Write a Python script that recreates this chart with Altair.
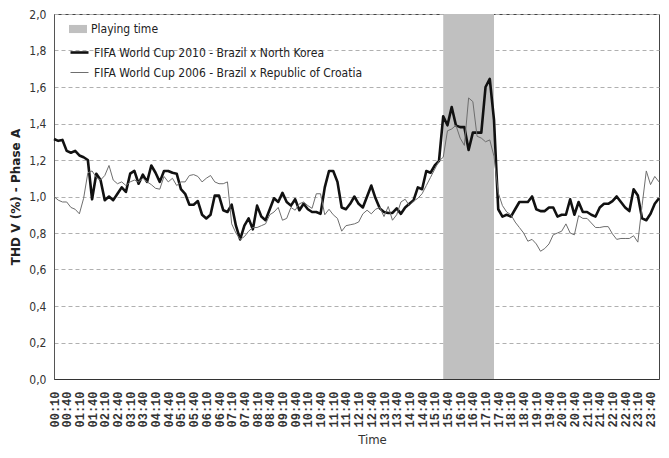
import altair as alt
import pandas as pd

# 10-minute categories from 00:10 to 24:00
times = [f"{(10 + 10 * i) // 60:02d}:{(10 + 10 * i) % 60:02d}" for i in range(144)]
tick_labels = times[0:142:3]  # 00:10, 00:40, ..., 23:40

series_names = [
    "FIFA World Cup 2010 - Brazil x North Korea",
    "FIFA World Cup 2006 - Brazil x Republic of Croatia",
]

wc2010 = [
    1.315, 1.305, 1.31, 1.25, 1.24, 1.25, 1.225, 1.215, 1.20, 0.985,
    1.125, 1.09, 0.98, 1.00, 0.98, 1.015, 1.05, 1.025, 1.125, 1.14,
    1.07, 1.12, 1.08, 1.17, 1.13, 1.08, 1.14, 1.14, 1.13, 1.125,
    1.04, 1.015, 0.955, 0.955, 0.975, 0.90, 0.88, 0.90, 1.005, 1.005,
    0.925, 0.915, 0.955, 0.84, 0.765, 0.84, 0.88, 0.82, 0.95, 0.89,
    0.87, 0.93, 0.99, 0.97, 1.02, 0.97, 0.95, 0.985, 0.925, 0.96,
    0.93, 0.915, 0.915, 0.905, 1.05, 1.14, 1.14, 1.08, 0.94, 0.93,
    0.96, 1.00, 0.96, 0.94, 1.00, 1.06, 0.99, 0.935, 0.915, 0.91,
    0.91, 0.935, 0.905, 0.94, 0.96, 0.98, 1.05, 1.04, 1.14, 1.13,
    1.17, 1.195, 1.44, 1.39, 1.49, 1.39, 1.38, 1.38, 1.255, 1.35,
    1.35, 1.35, 1.60, 1.645, 1.42, 0.93, 0.89, 0.90, 0.89, 0.93,
    0.97, 0.97, 0.97, 1.00, 0.93, 0.92, 0.92, 0.94, 0.94, 0.89,
    0.90, 0.90, 0.985, 0.90, 0.97, 0.915, 0.915, 0.90, 0.89, 0.94,
    0.96, 0.96, 0.975, 1.00, 0.97, 0.94, 0.92, 1.04, 1.005, 0.88,
    0.87, 0.905, 0.96, 0.99,
]

wc2006 = [
    1.00, 0.98, 0.97, 0.97, 0.94, 0.93, 0.905, 0.99, 1.13, 1.14,
    1.105, 1.09, 1.115, 1.17, 1.09, 1.07, 1.08, 1.06, 1.08, 1.09,
    1.08, 1.10, 1.08, 1.065, 1.045, 1.04, 1.11, 1.08, 1.10, 1.06,
    1.08, 1.08, 1.115, 1.12, 1.11, 1.08, 1.10, 1.115, 1.08, 1.07,
    1.07, 1.08, 0.85, 0.80, 0.765, 0.78, 0.81, 0.83, 0.83, 0.84,
    0.85, 0.90, 0.915, 0.94, 0.87, 0.88, 0.94, 0.925, 0.96, 0.97,
    0.95, 0.935, 1.015, 1.015, 0.90, 0.93, 0.90, 0.88, 0.81, 0.84,
    0.845, 0.85, 0.86, 0.905, 0.925, 0.905, 0.93, 0.94, 0.89, 0.945,
    0.87, 0.90, 0.97, 0.985, 0.95, 0.975, 0.99, 1.015, 1.06, 1.105,
    1.15, 1.195, 1.215, 1.36, 1.37, 1.39, 1.32, 1.28, 1.54, 1.52,
    1.33, 1.32, 1.30, 1.31, 1.22, 1.02, 0.95, 0.915, 0.90, 0.86,
    0.83, 0.80, 0.755, 0.765, 0.74, 0.70, 0.715, 0.74, 0.79, 0.80,
    0.81, 0.85, 0.80, 0.79, 0.895, 0.88, 0.88, 0.855, 0.83, 0.83,
    0.835, 0.835, 0.795, 0.765, 0.77, 0.77, 0.77, 0.785, 0.75, 0.95,
    1.14, 1.065, 1.11, 1.08,
]

playing_label = ["Playing time"]
playing_start = ["15:30"]
playing_end = ["17:30"]

y_ticks = [0.0, 0.2, 0.4, 0.6, 0.8, 1.0, 1.2, 1.4, 1.6, 1.8, 2.0]

df = pd.DataFrame({
    "time": times * 2,
    "thd": wc2010 + wc2006,
    "series": [series_names[0]] * len(times) + [series_names[1]] * len(times),
})
band_df = pd.DataFrame({"label": playing_label, "start": playing_start, "end": playing_end})

NARROW = "Liberation Sans Narrow, DejaVu Sans Condensed, Liberation Sans, sans-serif"

x_scale = alt.Scale(type="point", domain=times, padding=0)
y_scale = alt.Scale(domain=[0, 2], nice=False, zero=True)

x_axis = alt.Axis(
    values=tick_labels, labelAngle=-90, ticks=False, grid=False,
    labelFont="Liberation Mono", labelFontWeight="bold", labelFontSize=12,
    labelColor="#333", labelPadding=12, labelOverlap=False,
    domainColor="#333", domainWidth=1.2,
    title="Time", titleFont=NARROW, titleFontSize=13, titleFontWeight="normal",
    titleColor="#333", titleX=318, titleY=64, titleBaseline="alphabetic",
    titleAlign="center",
)
y_axis = alt.Axis(
    values=y_ticks,
    labelExpr="replace(format(datum.value, '.1f'), '.', ',')",
    ticks=False, grid=True, gridDash=[4, 3], gridColor="#b0b0b0", gridWidth=1,
    domainColor="#555", labelFont=NARROW, labelFontSize=12, labelColor="#333",
    labelPadding=8,
    title="THD V (%) - Phase A", titleFont="DejaVu Sans", titleFontSize=12,
    titleFontWeight="bold", titleColor="#222", titlePadding=6,
)

legend_common = dict(
    title=None, orient="none", labelFont=NARROW, labelFontSize=12,
    labelColor="#222", labelOffset=4, padding=0, labelLimit=0,
)

band = alt.Chart(band_df).mark_rect(opacity=1).encode(
    x=alt.X("start:O", scale=x_scale, axis=x_axis),
    x2="end:O",
    y=alt.datum(0, scale=y_scale, axis=y_axis),
    y2=alt.datum(2),
    fill=alt.Fill(
        "label:N",
        scale=alt.Scale(domain=playing_label, range=["#c0c0c0"]),
        legend=alt.Legend(
            legendX=15, legendY=6,
            symbolType="M-1,-0.45H1V0.45H-1Z", symbolSize=324,
            symbolStrokeWidth=0, symbolOpacity=1, **legend_common,
        ),
    ),
)

line_legend = alt.Legend(
    legendX=15, legendY=28, symbolType="stroke", symbolSize=324, rowPadding=4,
    **legend_common,
)

lines = alt.Chart(df).mark_line(strokeJoin="round").encode(
    x=alt.X("time:O", scale=x_scale, sort=None, axis=x_axis),
    y=alt.Y("thd:Q", scale=y_scale, axis=y_axis),
    stroke=alt.Stroke(
        "series:N",
        scale=alt.Scale(domain=series_names, range=["#111111", "#6e6e6e"]),
        legend=line_legend,
    ),
    strokeWidth=alt.StrokeWidth(
        "series:N",
        scale=alt.Scale(domain=series_names, range=[2.6, 1.0]),
        legend=line_legend,
    ),
    detail="series:N",
)

chart = alt.layer(band, lines).properties(
    width=605, height=365,
    autosize=alt.AutoSizeParams(type="none"),
    padding={"left": 46, "top": 6, "right": 2, "bottom": 66},
    background="white",
).resolve_scale(y="shared", x="shared").configure_view(
    stroke="#444", strokeWidth=1
)

chart.save("out.html", embed_options={"renderer": "svg", "actions": False})
